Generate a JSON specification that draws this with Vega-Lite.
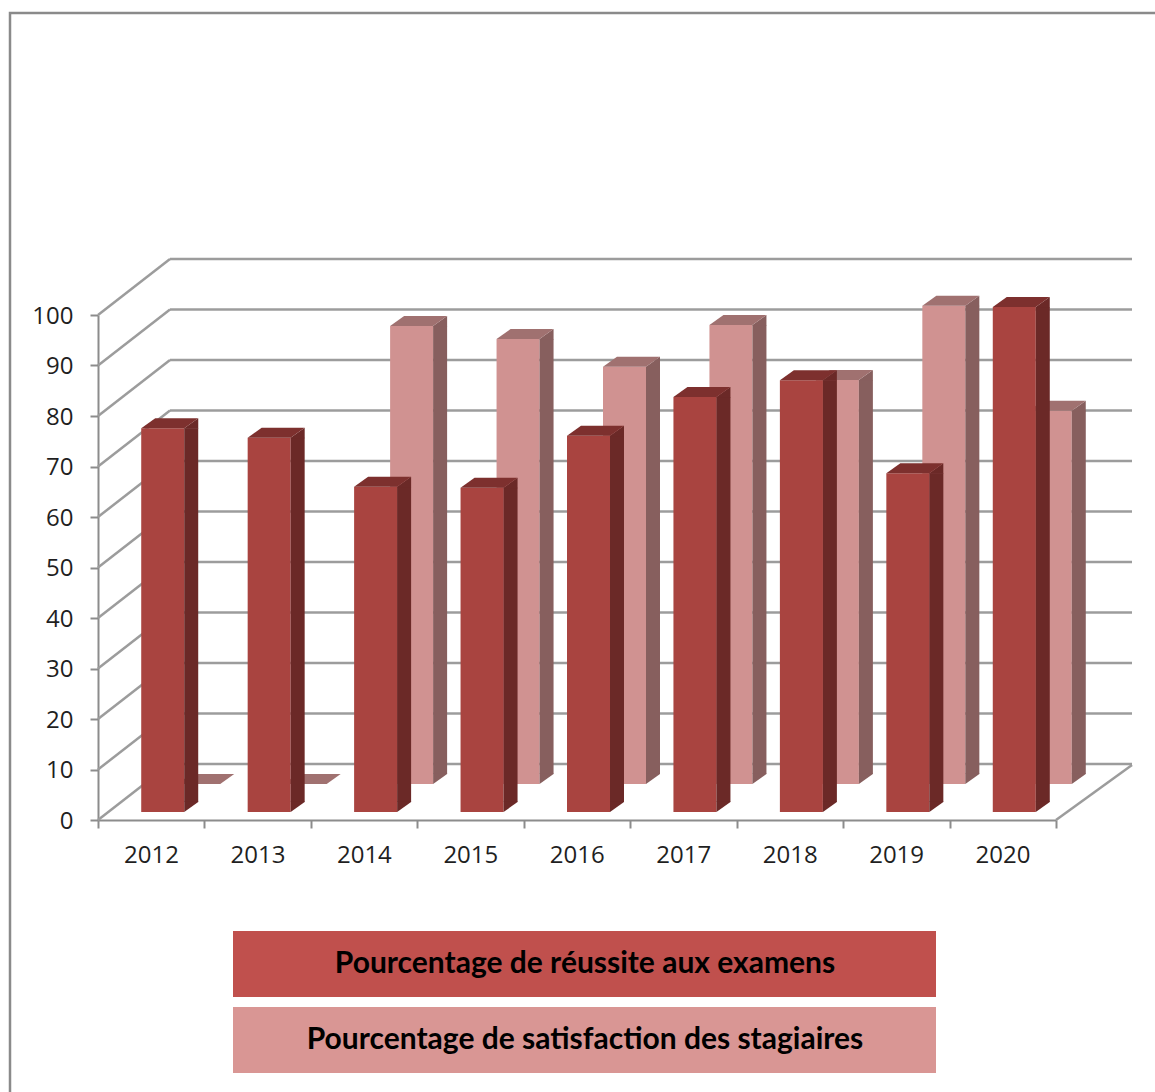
{
"$schema":"https://vega.github.io/schema/vega-lite/v6.json",
"autosize":"none",
"padding":{"left":98,"top":315,"right":99,"bottom":272},
"width":958,"height":505,
"background":"white",
"config":{"view":{"stroke":null}},
"datasets":{
"bars":[
{"year":2012,"series":"Pourcentage de satisfaction des stagiaires","value":0},
{"year":2013,"series":"Pourcentage de satisfaction des stagiaires","value":0},
{"year":2014,"series":"Pourcentage de satisfaction des stagiaires","value":90.7},
{"year":2015,"series":"Pourcentage de satisfaction des stagiaires","value":88.1},
{"year":2016,"series":"Pourcentage de satisfaction des stagiaires","value":82.6},
{"year":2017,"series":"Pourcentage de satisfaction des stagiaires","value":90.9},
{"year":2018,"series":"Pourcentage de satisfaction des stagiaires","value":80},
{"year":2019,"series":"Pourcentage de satisfaction des stagiaires","value":94.7},
{"year":2020,"series":"Pourcentage de satisfaction des stagiaires","value":73.9},
{"year":2012,"series":"Pourcentage de réussite aux examens","value":76},
{"year":2013,"series":"Pourcentage de réussite aux examens","value":74.1},
{"year":2014,"series":"Pourcentage de réussite aux examens","value":64.4},
{"year":2015,"series":"Pourcentage de réussite aux examens","value":64.2},
{"year":2016,"series":"Pourcentage de réussite aux examens","value":74.5},
{"year":2017,"series":"Pourcentage de réussite aux examens","value":82.2},
{"year":2018,"series":"Pourcentage de réussite aux examens","value":85.5},
{"year":2019,"series":"Pourcentage de réussite aux examens","value":67.1},
{"year":2020,"series":"Pourcentage de réussite aux examens","value":100}
],
"levels":[{"level":0},{"level":10},{"level":20},{"level":30},{"level":40},{"level":50},{"level":60},{"level":70},{"level":80},{"level":90},{"level":100}]
},
"data":{"name":"bars"},
"layer":[
{"data":{"name":"levels"},
 "mark":{"type":"rule","stroke":"#9c9c9c","strokeWidth":2.5,"xOffset":72,"x2Offset":76,"yOffset":-56,"y2Offset":-56},
 "encoding":{
  "x":{"datum":2011.5,"type":"quantitative","scale":{"domain":[2011.5,2020.5],"nice":false,"zero":false,"padding":0},
   "axis":{"values":[2011.5,2012.5,2013.5,2014.5,2015.5,2016.5,2017.5,2018.5,2019.5,2020.5],"title":null,"grid":false,"domainColor":"#8c8c8c","domainWidth":2,"tickColor":"#8c8c8c","tickWidth":2,"tickSize":8,"labelFont":"Open Sans","labelFontSize":24,"labelColor":"#1f1f1f","labelPadding":15,"labelOffset":53,"labelFlush":false,"labelOverlap":false,"labelBound":false,"labelExpr":"datum.value>2020?'':format(datum.value+0.5,'d')"}},
  "x2":{"datum":2020.5},
  "y":{"field":"level","type":"quantitative","scale":{"domain":[0,100],"nice":false},
   "axis":{"values":[0,10,20,30,40,50,60,70,80,90,100],"title":null,"grid":false,"domainColor":"#8c8c8c","domainWidth":2,"tickColor":"#8c8c8c","tickWidth":2,"tickSize":8,"labelFont":"Open Sans","labelFontSize":24,"labelColor":"#1f1f1f","labelPadding":17,"labelOffset":1}},
  "y2":{"field":"level"}}},
{"data":{"name":"levels"},
 "mark":{"type":"rule","stroke":"#9c9c9c","strokeWidth":2.5,"x2Offset":72,"y2Offset":-56},
 "encoding":{"x":{"datum":2011.5,"type":"quantitative"},"x2":{"datum":2011.5},"y":{"field":"level","type":"quantitative"},"y2":{"field":"level"}}},
{"data":{"values":[{"level":0}]},
 "mark":{"type":"rule","stroke":"#9c9c9c","strokeWidth":2.5,"x2Offset":76,"y2Offset":-55},
 "encoding":{"x":{"datum":2020.5,"type":"quantitative"},"x2":{"datum":2020.5},"y":{"field":"level","type":"quantitative"},"y2":{"field":"level"}}},
{"data":{"values":[{"level":100}]},
 "mark":{"type":"point","shape":"M-88 800 V-302 H1100","size":4,"filled":false,"stroke":"#8a8a8a","strokeWidth":2.5,"opacity":1,"clip":false},
 "encoding":{"x":{"datum":2011.5,"type":"quantitative"},"y":{"field":"level","type":"quantitative"}}},
{"transform":[{"filter":"datum.series=='Pourcentage de satisfaction des stagiaires'"}],
 "encoding":{"x":{"field":"year","type":"quantitative"},"y":{"field":"value","type":"quantitative"}},
 "layer":[
  {"transform":[{"filter":"datum.value>0"}],"mark":{"type":"bar","orient":"vertical","width":43,"xOffset":47.5,"yOffset":-36,"y2Offset":-36,"fill":"#D09291"},"encoding":{"y2":{"datum":0}}},
  {"transform":[{"filter":"datum.value>0"}],"mark":{"type":"bar","orient":"vertical","width":14,"xOffset":76,"yOffset":-36,"y2Offset":-46,"fill":"#875F5E"},"encoding":{"y2":{"datum":0}}},
  {"transform":[{"filter":"datum.value>0"}],"mark":{"type":"point","shape":"M69 -36 L83 -46 L83 -35.5 L69 -35.5 Z","size":4,"filled":true,"fill":"#875F5E","strokeWidth":0,"opacity":1}},
  {"transform":[{"filter":"datum.value>0"}],"mark":{"type":"point","shape":"M69 -46.5 L83 -46.5 L83 -46 L69 -36 Z","size":4,"filled":true,"fill":"#875F5E","strokeWidth":0,"opacity":1},"encoding":{"y":{"datum":0,"type":"quantitative"}}},
  {"mark":{"type":"point","shape":"M26 -36 L69 -36 L83 -46 L40 -46 Z","size":4,"filled":true,"fill":"#A07170","strokeWidth":0,"opacity":1}}
 ]},
{"transform":[{"filter":"datum.series=='Pourcentage de réussite aux examens'"}],
 "encoding":{"x":{"field":"year","type":"quantitative"},"y":{"field":"value","type":"quantitative"}},
 "layer":[
  {"mark":{"type":"bar","orient":"vertical","width":43,"xOffset":11.5,"yOffset":-8,"y2Offset":-8,"fill":"#A94440"},"encoding":{"y2":{"datum":0}}},
  {"mark":{"type":"bar","orient":"vertical","width":14,"xOffset":40,"yOffset":-8,"y2Offset":-18,"fill":"#6B2927"},"encoding":{"y2":{"datum":0}}},
  {"mark":{"type":"point","shape":"M33 -8 L47 -18 L47 -7.5 L33 -7.5 Z","size":4,"filled":true,"fill":"#6B2927","strokeWidth":0,"opacity":1}},
  {"mark":{"type":"point","shape":"M33 -18.5 L47 -18.5 L47 -18 L33 -8 Z","size":4,"filled":true,"fill":"#6B2927","strokeWidth":0,"opacity":1},"encoding":{"y":{"datum":0,"type":"quantitative"}}},
  {"mark":{"type":"point","shape":"M-10 -8 L33 -8 L47 -18 L4 -18 Z","size":4,"filled":true,"fill":"#7D302E","strokeWidth":0,"opacity":1}}
 ]},
{"mark":{"type":"point","filled":true,"opacity":0,"size":0},
 "encoding":{"x":{"field":"year","type":"quantitative"},"y":{"field":"value","type":"quantitative"},
  "color":{"field":"series","type":"nominal","scale":{"domain":["Pourcentage de réussite aux examens","Pourcentage de satisfaction des stagiaires"],"range":["#C0504D","#D99694"]},
   "legend":{"orient":"none","legendX":120,"legendY":634,"title":null,"padding":0,"symbolType":"M0 -33 H703 V33 H0 Z","symbolSize":4,"symbolOpacity":1,"symbolStrokeWidth":0,"labelFont":"Lato","labelFontWeight":"bold","labelFontSize":30,"labelColor":"#000000","labelAlign":"center","labelOffset":337,"labelLimit":800,"rowPadding":10}}}}
]
}
